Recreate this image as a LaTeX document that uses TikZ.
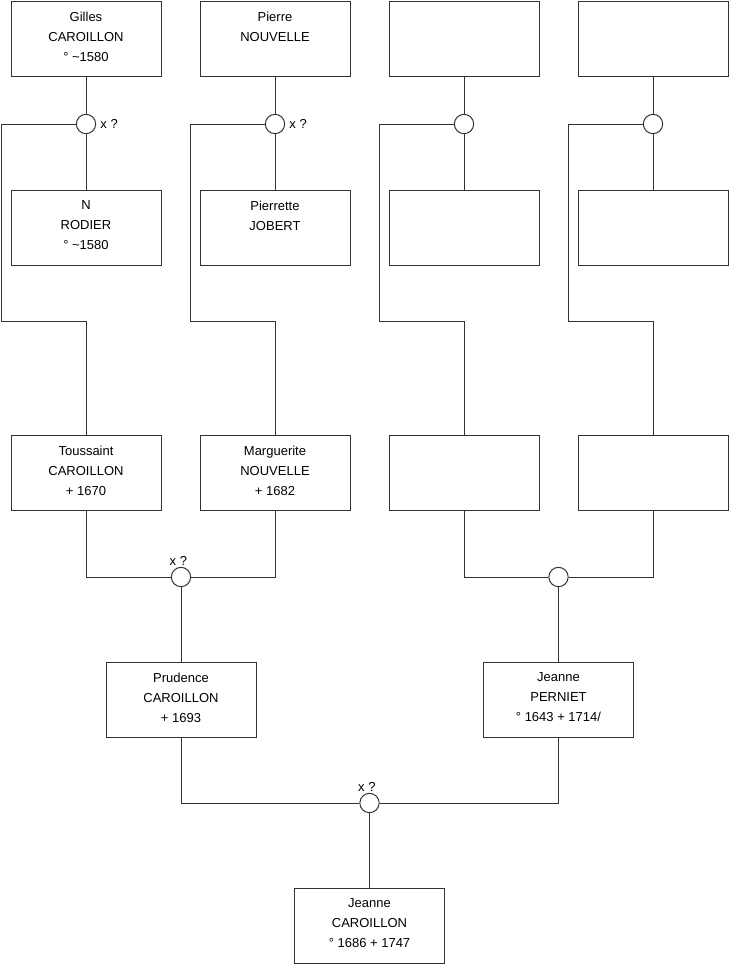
\documentclass[tikz,border=0pt]{standalone}
\usepackage{fontspec}
\setmainfont{Liberation Sans}
\usetikzlibrary{positioning}

\begin{document}
\begin{tikzpicture}[x=0.75pt, y=-0.75pt,
        pers/.style={draw=black!80, line width=0.75pt, minimum width=112.5pt, minimum height=56.25pt, inner sep=0pt},
        ptext/.style={anchor=north, align=center, inner sep=0pt, yshift=-8.25pt},
        ehe/.style={draw=black!80, line width=0.75pt, circle, fill=white, minimum size=14.5pt, inner sep=0pt},
        lnk/.style={draw=black!80, line width=0.75pt},
        xq/.style={inner sep=1pt},
        font=\fontsize{9.75}{15}\selectfont]
        % Bildbereich
        \useasboundingbox (0,0) rectangle (740,975);
        % Personen: Urgrosseltern
        \node[pers] (gilles) at (86,38.5) {};
        \node[pers] (pierre) at (275,38.5) {};
        \node[pers] (a3) at (464,38.5) {};
        \node[pers] (a4) at (653,38.5) {};
        \node[pers] (rodier) at (86,227.5) {};
        \node[pers] (jobert) at (275,227.5) {};
        \node[pers] (b3) at (464,227.5) {};
        \node[pers] (b4) at (653,227.5) {};
        % Grosseltern
        \node[pers] (toussaint) at (86,472.5) {};
        \node[pers] (marguerite) at (275,472.5) {};
        \node[pers] (c3) at (464,472.5) {};
        \node[pers] (c4) at (653,472.5) {};
        % Eltern und Kind
        \node[pers] (prudence) at (181,699.5) {};
        \node[pers] (perniet) at (558.5,699.5) {};
        \node[pers] (jeanne) at (369.5,925.5) {};
        % Beschriftung
        \node[ptext] (gillest) at (gilles.north) {Gilles\\CAROILLON\\° \textasciitilde1580};
        \node[ptext] (pierret) at (pierre.north) {Pierre\\NOUVELLE};
        \node[ptext] (rodiert) at (rodier.north) {N\\RODIER\\° \textasciitilde1580};
        \node[ptext] (jobertt) at (jobert.north) {Pierrette\\JOBERT};
        \node[ptext] (toussaintt) at (toussaint.north) {Toussaint\\CAROILLON\\+ 1670};
        \node[ptext] (margueritet) at (marguerite.north) {Marguerite\\NOUVELLE\\+ 1682};
        \node[ptext] (prudencet) at (prudence.north) {Prudence\\CAROILLON\\+ 1693};
        \node[ptext] (pernietet) at (perniet.north) {Jeanne\\PERNIET\\° 1643 + 1714/};
        \node[ptext] (jeannet) at (jeanne.north) {Jeanne\\CAROILLON\\° 1686 + 1747};
        % Ehen
        \node[ehe] (k1) at (86,124) {};
        \node[ehe] (k2) at (275,124) {};
        \node[ehe] (k3) at (464,124) {};
        \node[ehe] (k4) at (653,124) {};
        \node[ehe] (k5) at (181,577) {};
        \node[ehe] (k6) at (558.5,577) {};
        \node[ehe] (k7) at (369.5,803) {};
        \node[xq, right=2pt of k1] (x1) {x ?};
        \node[xq, right=2pt of k2] (x2) {x ?};
        \node[xq, above=0pt of k5, xshift=-2pt] (x5) {x ?};
        \node[xq, above=0pt of k7, xshift=-2pt] (x7) {x ?};
        % Verbindungen oben
        \foreach \a/\k/\b/\c/\xl in {gilles/k1/rodier/toussaint/1, pierre/k2/jobert/marguerite/190,
                a3/k3/b3/c3/379, a4/k4/b4/c4/568} {
            \draw[lnk] (\a.south) -- (\k.north);
            \draw[lnk] (\k.south) -- (\b.north);
            \draw[lnk] (\k.west) -| (\xl,321) -| (\c.north);
        }
        % Verbindungen unten
        \draw[lnk] (toussaint.south) |- (k5.west);
        \draw[lnk] (marguerite.south) |- (k5.east);
        \draw[lnk] (k5.south) -- (prudence.north);
        \draw[lnk] (c3.south) |- (k6.west);
        \draw[lnk] (c4.south) |- (k6.east);
        \draw[lnk] (k6.south) -- (perniet.north);
        \draw[lnk] (prudence.south) |- (k7.west);
        \draw[lnk] (perniet.south) |- (k7.east);
        \draw[lnk] (k7.south) -- (jeanne.north);
    \end{tikzpicture}
\end{document}
